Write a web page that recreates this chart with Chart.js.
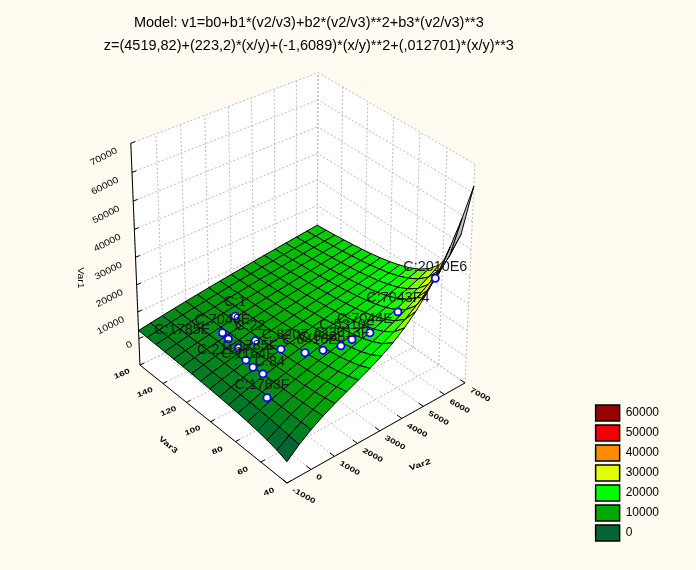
<!DOCTYPE html>
<html><head><meta charset="utf-8">
<style>html,body{margin:0;padding:0;background:#FFFBF0;overflow:hidden}canvas{display:block}</style>
<script src="https://cdn.jsdelivr.net/npm/chart.js@4/dist/chart.umd.js"></script>
</head><body><canvas id="c" width="696" height="570"></canvas>
<script>
const titleLines=["Model: v1=b0+b1*(v2/v3)+b2*(v2/v3)**2+b3*(v2/v3)**3","z=(4519,82)+(223,2)*(x/y)+(-1,6089)*(x/y)**2+(,012701)*(x/y)**3"];
const var1Ticks=[0,10000,20000,30000,40000,50000,60000,70000];
const var2Ticks=[-1000,0,1000,2000,3000,4000,5000,6000,7000];
const var3Ticks=[40,60,80,100,120,140,160];
const gridVar2=[-1000,-500,0,500,1000,1500,2000,2500,3000,3500,4000,4500,5000,5500,6000,6500,7000];
const gridVar3=[40,47.5,55,62.5,70,77.5,85,92.5,100,107.5,115,122.5,130,137.5,145,152.5,160];
const surfaceVar1=[
[-2264,1454,4520,7083,9293,11297,13245,15286,17568,20240,23452,27352,32088,37810,44666,52805,62379],
[-1020,1971,4520,6704,8621,10362,12013,13664,15403,17317,19496,22028,25004,28520,32659,37502,43146],
[-159,2341,4520,6421,8117,9664,11118,12533,13970,15485,17136,18977,21064,23452,26220,29407,33070],
[476,2613,4520,6201,7728,9123,10429,11687,12932,14206,15547,16997,18582,20368,22365,24627,27196],
[958,2828,4520,6028,7415,8685,9877,11017,12131,13245,14393,15597,16888,18292,19834,21555,23452],
[1333,3000,4520,5889,7152,8326,9426,10470,11485,12488,13502,14544,15636,16801,18059,19423,20916],
[1640,3142,4520,5774,6937,8022,9043,10014,10951,11870,12785,13714,14669,15668,16728,17866,19092],
[1896,3260,4520,5680,6757,7767,8718,9625,10497,11350,12190,13034,13891,14774,15694,16667,17706],
[2114,3362,4520,5597,6604,7549,8442,9293,10111,10906,11687,12463,13245,14042,14863,15718,16616],
[2289,3443,4520,5522,6463,7351,8192,8997,9767,10518,11250,11976,12698,13430,14173,14943,15736],
[2438,3513,4520,5457,6342,7179,7976,8738,9471,10179,10871,11551,12227,12906,13591,14292,15012],
[2573,3575,4520,5399,6233,7027,7787,8512,9206,9877,10532,11176,11814,12447,13085,13733,14393],
[2691,3628,4520,5349,6139,6895,7617,8304,8966,9607,10233,10846,11446,12045,12643,13245,13859],
[2795,3677,4520,5304,6054,6776,7464,8117,8752,9367,9962,10545,11118,11687,12252,12818,13390],
[2888,3721,4520,5263,5980,6668,7320,7949,8559,9147,9717,10275,10823,11364,11901,12437,12976],
[2973,3760,4520,5226,5911,6572,7192,7797,8383,8944,9494,10031,10555,11073,11584,12094,12604],
[3050,3796,4520,5193,5849,6478,7083,7661,8219,8761,9293,9804,10310,10807,11297,11784,12269]];
const pointsVar2=[38,860,805,752,1331,1611,549,491,508,-47,1986,2413,2884,3291,3815,4910,6800];
const pointsVar3=[99,126,120,111,108,92.5,100.8,94,86.4,72.8,80.4,74,68.4,67,62.3,59.5,62];
const pointsVar1=[24400,5900,5870,5900,7060,8000,5660,5640,5780,4370,9240,10530,12030,13100,15000,19100,23200];
const stemVar1=[4600];
const pointLabels=["C:1","C:7046E","C:1785E","C:2116F","C:22","C:8207","C:1785F","C:1164F","C:84","C:1783F","C:6416E","C:0438","C:3013F","C:5310F","C:7044E","C:7043F4","C:2010E6"];
const labelShiftX=[0,0,-46,-14,-5,4,4,-5,7,-5,5,-1,1,-5,-5,0,0];
const labelShiftY=[-14,-13,-9,2,-15,-14,-14,-13,-12,-13,-13,-13,-13,-15,-14,-14,-11];
const legendLevels=[60000,50000,40000,30000,20000,10000,0];
const legendColors=["#990000","#f00000","#ff8c00","#e0ff00","#00ff00","#00aa00","#006633"];

const PADL=26,PADR=27,PADB=25;
const cam={c:.0603,du:.0902,dv:.081,vx:295,vy:4119,fx:287,fy:483,ux:219.9,uy:-65.5,nx:-135.7,ny:-88.4};
function project(a,b,z){
  const u=(a+1000)/8000,v=(b-40)/120,w=(z+10000)/80000,t=cam.c*w;
  const d=1+cam.du*u+cam.dv*v-t;
  return {x:(cam.fx+cam.ux*u+cam.nx*v-cam.vx*t)/d,y:(cam.fy+cam.uy*u+cam.ny*v-cam.vy*t)/d,d};
}
function hexRgb(h){return [1,3,5].map(i=>parseInt(h.substr(i,2),16));}
function colorFor(v){
  const z=v*1.15;
  const asc=legendLevels.slice().reverse(),cols=legendColors.slice().reverse().map(hexRgb);
  if(z<=asc[0])return `rgb(${cols[0]})`;
  for(let i=0;i<asc.length-1;i++){
    if(z<=asc[i+1]){const f=(z-asc[i])/(asc[i+1]-asc[i]);
      return `rgb(${cols[i].map((c,k)=>Math.round(c+(cols[i+1][k]-c)*f))})`;}
  }
  return `rgb(${cols[cols.length-1]})`;
}
function shape(pts,fill,stroke,width,dash){
  const data=pts.map(p=>({x:p.x,y:p.y}));
  return {data,showLine:true,fill:fill?'shape':false,backgroundColor:fill||'transparent',borderColor:stroke||'transparent',
    borderWidth:width||0,borderDash:dash||[],pointRadius:0,tension:0,clip:false};
}
const xMin=var2Ticks[0],xMax=var2Ticks[var2Ticks.length-1],yMin=var3Ticks[0],yMax=var3Ticks[var3Ticks.length-1],zMin=-10000,zMax=70000;
const paint=[];
const GRID='#bcbcbc',DASH=[2,2];
function closed(a){return a.concat([a[0]]);}
paint.push(shape(closed([project(xMin,yMax,zMin),project(xMax,yMax,zMin),project(xMax,yMax,zMax),project(xMin,yMax,zMax)]),'#ffffff'));
paint.push(shape(closed([project(xMax,yMin,zMin),project(xMax,yMax,zMin),project(xMax,yMax,zMax),project(xMax,yMin,zMax)]),'#ffffff'));
paint.push(shape(closed([project(xMin,yMin,zMin),project(xMax,yMin,zMin),project(xMax,yMax,zMin),project(xMin,yMax,zMin)]),'#ffffff'));
function gl(p,q){paint.push(shape([p,q],null,GRID,1,DASH));}
for(const z of var1Ticks.concat([zMin])){
  gl(project(xMin,yMax,z),project(xMax,yMax,z));gl(project(xMax,yMin,z),project(xMax,yMax,z));
}
for(const a of var2Ticks){gl(project(a,yMax,zMin),project(a,yMax,zMax));gl(project(a,yMin,zMin),project(a,yMax,zMin));}
for(const b of var3Ticks){gl(project(xMax,b,zMin),project(xMax,b,zMax));gl(project(xMin,b,zMin),project(xMax,b,zMin));}
// surface cells, far cells first
const cells=[];
for(let j=0;j<gridVar3.length-1;j++)for(let i=0;i<gridVar2.length-1;i++){
  const zz=[surfaceVar1[j][i],surfaceVar1[j][i+1],surfaceVar1[j+1][i+1],surfaceVar1[j+1][i]];
  const pts=[project(gridVar2[i],gridVar3[j],zz[0]),project(gridVar2[i+1],gridVar3[j],zz[1]),project(gridVar2[i+1],gridVar3[j+1],zz[2]),project(gridVar2[i],gridVar3[j+1],zz[3])];
  let area=0;for(let k=0;k<4;k++){const p=pts[k],q=pts[(k+1)%4];area+=p.x*q.y-q.x*p.y;}
  const m=(zz[0]+zz[1]+zz[2]+zz[3])/4,d=(pts[0].d+pts[1].d+pts[2].d+pts[3].d)/4;
  cells.push({pts,d,fill:area>0?'#bdbdbd':colorFor(m)});
}
cells.sort((a,b)=>b.d-a.d);
for(const c of cells)paint.push(shape(closed(c.pts),c.fill,'#000000',1));
// axes
const AX='#000000';
paint.push(shape([project(xMin,yMax,zMax),project(xMin,yMax,zMin),project(xMin,yMin,zMin),project(xMax,yMin,zMin)],null,AX,1));
for(const z of var1Ticks)paint.push(shape([project(xMin,yMax,z),project(xMin+170,yMax,z)],null,AX,1));
for(const a of var2Ticks)paint.push(shape([project(a,yMin,zMin),project(a,yMin+3.5,zMin)],null,AX,1));
for(const b of var3Ticks)paint.push(shape([project(xMin,b,zMin),project(xMin+170,b,zMin)],null,AX,1));
// stems and points
stemVar1.forEach((z,i)=>paint.push(shape([project(pointsVar2[i],pointsVar3[i],pointsVar1[i]),project(pointsVar2[i],pointsVar3[i],z)],null,'#0000ff',1,[2,4])));
const mark=pointsVar2.map((a,i)=>project(a,pointsVar3[i],pointsVar1[i]));
paint.push({data:mark.map(p=>({x:p.x,y:p.y})),showLine:false,pointRadius:3.6,pointBackgroundColor:'#ffffff',pointBorderColor:'#0000ff',pointBorderWidth:1.8,clip:false});

const FONT='"Liberation Sans"';
const overlay={id:'overlay',
 afterLayout(ch){const a=ch.chartArea,X=ch.scales.x,Y=ch.scales.y;
   X.min=a.left;X.max=a.right;Y.min=a.top;Y.max=a.bottom;X.configure();Y.configure();},
 afterDatasetsDraw(ch){
  const X=ch.scales.x,Y=ch.scales.y,g=ch.ctx;
  const put=(t,px,py,rot,sy,al,size,col,wt)=>{g.save();g.translate(px,py);g.rotate(rot*Math.PI/180);g.scale(1,sy);
    g.font=`${wt||'normal'} ${size}px ${FONT}`;g.fillStyle=col||'#000';g.textAlign=al;g.textBaseline='middle';g.fillText(t,0,0);g.restore();};
  const at=p=>[X.getPixelForValue(p.x),Y.getPixelForValue(p.y)];
  var1Ticks.forEach(z=>{const [a,b]=at(project(xMin,yMax,z));
    put(String(z),a-(z?14:7),b+(z?7:5),-27,.85,'right',10.5);});
  var2Ticks.forEach(v=>{const [a,b]=at(project(v,yMin,zMin));
    put(String(v),a+5.5,b+6.5,29,.72,'left',10,'#000','bold');});
  var3Ticks.forEach(v=>{const [a,b]=at(project(xMin,v,zMin));
    put(String(v),a-18,b+9,-22,.72,'center',10,'#000','bold');});
  put('Var1',X.getPixelForValue(80),Y.getPixelForValue(278),90,.8,'center',10.5);
  put('Var3',X.getPixelForValue(168),Y.getPixelForValue(445),40,.72,'center',10.5,'#000','bold');
  put('Var2',X.getPixelForValue(420),Y.getPixelForValue(465),-18,.72,'center',10.5,'#000','bold');
  mark.forEach((p,i)=>{const [a,b]=at(p);
    put(pointLabels[i],a+labelShiftX[i],b+labelShiftY[i],0,1,'center',14.4,'#1a1a1a');});
}};
new Chart(document.getElementById('c'),{type:'scatter',data:{datasets:paint.reverse()},plugins:[overlay],
 options:{responsive:false,animation:false,devicePixelRatio:1,events:[],
  layout:{padding:{left:PADL,right:PADR,bottom:PADB,top:0}},
  scales:{x:{type:'linear',display:false,bounds:'data'},y:{type:'linear',display:false,reverse:true,bounds:'data'}},
  plugins:{
   tooltip:{enabled:false},
   title:{display:true,text:titleLines,fullSize:false,color:'#000',font:{family:FONT,size:14.5,weight:'normal',lineHeight:1.586},padding:{top:12,bottom:5}},
   legend:{display:true,position:'right',align:'end',labels:{boxWidth:24,boxHeight:16,padding:4,color:'#000',font:{family:FONT,size:12},
     generateLabels:()=>legendLevels.map((l,i)=>({text:String(l),fillStyle:legendColors[i],strokeStyle:'#000',lineWidth:1.5,hidden:false,index:i}))}}
  }}});
</script></body></html>
